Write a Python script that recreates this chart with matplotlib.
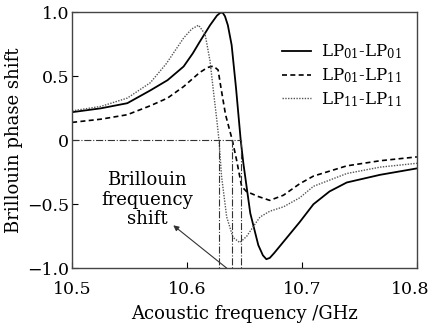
import matplotlib
matplotlib.use("Agg")
import matplotlib.pyplot as plt
from matplotlib.transforms import ScaledTranslation

plt.rcParams['font.family'] = ['DejaVu Serif']
plt.rcParams['mathtext.fontset'] = 'dejavuserif'

# LP01-LP01 (solid)
f_solid = [10.50, 10.525, 10.548, 10.568, 10.583, 10.597, 10.605, 10.611, 10.620,
           10.626, 10.629, 10.631, 10.633, 10.6355, 10.6388, 10.6426, 10.6467,
           10.649, 10.655, 10.662, 10.666, 10.669, 10.672, 10.676, 10.687,
           10.698, 10.710, 10.724, 10.739, 10.768, 10.80]
v_solid = [0.22, 0.25, 0.29, 0.39, 0.47, 0.577, 0.68, 0.77, 0.90,
           0.975, 0.998, 0.998, 0.97, 0.90, 0.745, 0.41, 0.0,
           -0.18, -0.57, -0.82, -0.90, -0.93, -0.92, -0.88, -0.76,
           -0.64, -0.50, -0.40, -0.33, -0.27, -0.22]

# LP01-LP11 (dashed)
f_dash = [10.50, 10.525, 10.548, 10.568, 10.583, 10.597, 10.611, 10.618, 10.623,
          10.627, 10.6297, 10.6335, 10.6394, 10.643, 10.6475, 10.6516, 10.662,
          10.672, 10.6838, 10.698, 10.710, 10.739, 10.768, 10.80]
v_dash = [0.14, 0.165, 0.20, 0.27, 0.33, 0.42, 0.53, 0.57, 0.58,
          0.55, 0.40, 0.20, 0.0, -0.15, -0.36, -0.40, -0.44,
          -0.47, -0.43, -0.34, -0.28, -0.20, -0.16, -0.13]

# LP11-LP11 (dotted)
f_dot = [10.50, 10.525, 10.548, 10.568, 10.582, 10.597, 10.604, 10.610, 10.6157,
         10.620, 10.623, 10.626, 10.6278, 10.630, 10.6345, 10.640, 10.646,
         10.652, 10.658, 10.6635, 10.672, 10.684, 10.698, 10.710, 10.739,
         10.768, 10.80]
v_dot = [0.23, 0.265, 0.33, 0.45, 0.60, 0.80, 0.87, 0.90, 0.83,
         0.62, 0.38, 0.15, 0.0, -0.28, -0.60, -0.76, -0.80,
         -0.75, -0.67, -0.60, -0.555, -0.52, -0.45, -0.36, -0.26,
         -0.21, -0.18]

# zero crossings (Brillouin frequency shifts)
f_shift = [10.6278, 10.6394, 10.6467]

labels = ['LP$_{01}$-LP$_{01}$', 'LP$_{01}$-LP$_{11}$', 'LP$_{11}$-LP$_{11}$']

fig = plt.figure(figsize=(4.32, 3.27), dpi=100)
ax = fig.add_axes([0.167, 0.180, 0.798, 0.782])

ax.plot(f_solid, v_solid, color='black', lw=1.3, label=labels[0])
ax.plot(f_dash, v_dash, color='black', lw=1.2, ls=(0, (3, 2)), label=labels[1])
ax.plot(f_dot, v_dot, color='#555555', lw=1.0, ls=(0, (1, 1)), label=labels[2])

ax.plot([10.5, max(f_shift)], [0, 0], color='#333333', lw=0.8, ls='-.')
for fs in f_shift:
    ax.plot([fs, fs], [0, -1], color='#333333', lw=0.8, ls='-.')

ax.text(10.565, -0.465, 'Brillouin\nfrequency\nshift', ha='center', va='center',
        fontsize=13, linespacing=1.1)
ax.annotate('', xy=(10.588, -0.665), xytext=(10.6345, -1.0),
            arrowprops=dict(arrowstyle='-|>', color='#333333', lw=0.8,
                            mutation_scale=8, shrinkA=0, shrinkB=0))

ax.set_xlim(10.5, 10.8)
ax.set_ylim(-1.0, 1.0)
ax.set_xticks([10.5, 10.6, 10.7, 10.8])
ax.set_yticks([-1.0, -0.5, 0, 0.5, 1.0])
ax.set_yticklabels(['\u22121.0', '\u22120.5', '0', '0.5', '1.0'])
ax.tick_params(direction='in', length=4, labelsize=12.5)
ax.tick_params(axis='x', pad=9)
ax.tick_params(axis='y', pad=2)
for s in ax.spines.values():
    s.set_color('#444444')
    s.set_linewidth(1.0)

# last x label sits a little to the left, inside the figure
last = ax.get_xticklabels()[-1]
last.set_transform(last.get_transform() + ScaledTranslation(-5 / 72, 0, fig.dpi_scale_trans))

ax.set_xlabel('Acoustic frequency /GHz', fontsize=13, labelpad=5)
ax.set_ylabel('Brillouin phase shift', fontsize=13, labelpad=3)

ax.legend(loc='upper right', bbox_to_anchor=(1.0, 0.94), frameon=False,
          fontsize=12, handlelength=1.75, labelspacing=0.3, handletextpad=0.6)

fig.savefig('out.png', dpi=100)
